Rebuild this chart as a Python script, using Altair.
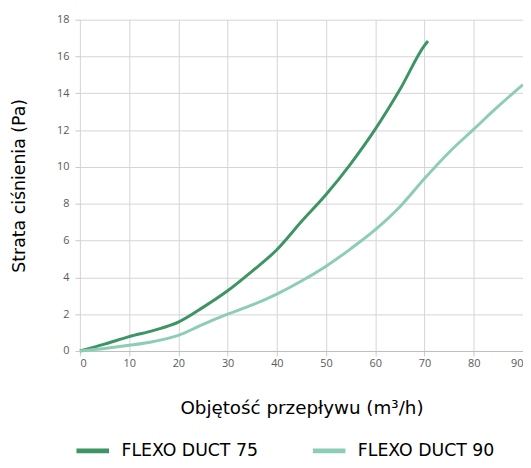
import altair as alt
import pandas as pd

x75 = [0, 5, 10, 15, 20, 25, 30, 35, 40, 45, 50, 55, 60, 65, 70, 70.7]
y75 = [0, 0.37, 0.78, 1.12, 1.57, 2.37, 3.27, 4.34, 5.5, 7.03, 8.5, 10.17, 12.05, 14.2, 16.6, 16.84]
x90 = [0, 5, 10, 15, 20, 25, 30, 35, 40, 45, 50, 55, 60, 65, 70, 75, 80, 85, 90]
y90 = [0, 0.14, 0.31, 0.52, 0.85, 1.45, 2.0, 2.5, 3.09, 3.8, 4.61, 5.55, 6.59, 7.84, 9.37, 10.8, 12.05, 13.3, 14.47]
names = ["FLEXO DUCT 75", "FLEXO DUCT 90"]
colors = ["#3d9464", "#8dcdb6"]

df = pd.concat([
    pd.DataFrame({"x": x75, "y": y75, "s": names[0], "o": range(len(x75))}),
    pd.DataFrame({"x": x90, "y": y90, "s": names[1], "o": range(len(x90))}),
])

chart = alt.Chart(df).mark_line(strokeWidth=3, interpolate="monotone").encode(
    x=alt.X("x:Q", scale=alt.Scale(domain=[0, 90], nice=False),
            axis=alt.Axis(title="Objętość przepływu (m³/h)", values=list(range(0, 91, 10)),
                          titleFontSize=18.5, titleFont="DejaVu Sans", titleFontWeight="normal",
                          titleColor="#000000", titlePadding=30,
                          labelFont="Open Sans", labelFontSize=11, labelColor="#595959",
                          labelPadding=2, tickColor="#c8c8c8", tickSize=5,
                          domainColor="#bfbfbf", gridColor="#d4d4d4")),
    y=alt.Y("y:Q", scale=alt.Scale(domain=[0, 18], nice=False),
            axis=alt.Axis(title="Strata ciśnienia (Pa)", values=list(range(0, 19, 2)),
                          titleFontSize=17.5, titleFont="DejaVu Sans", titleFontWeight="normal",
                          titleColor="#000000", titlePadding=28,
                          labelFont="Open Sans", labelFontSize=11, labelColor="#595959",
                          labelPadding=6, tickColor="#c8c8c8", tickSize=5,
                          domain=False, gridColor="#d4d4d4")),
    color=alt.Color("s:N", scale=alt.Scale(domain=names, range=colors),
                    legend=alt.Legend(title=None, orient="none", direction="horizontal",
                                      legendX=-6, legendY=417,
                                      symbolType="stroke", symbolSize=1089,
                                      symbolStrokeWidth=5, labelFontSize=17.5,
                                      labelFont="DejaVu Sans", labelColor="#000000",
                                      labelOffset=10, columnPadding=44)),
    order="o:Q",
).properties(
    width=448, height=335,
    autosize=alt.AutoSizeParams(type="none"),
    padding={"left": 72.7, "top": 9.3, "right": 0, "bottom": 107},
).configure_view(stroke=None)

chart.save("out.html", embed_options={"renderer": "svg", "actions": False})
